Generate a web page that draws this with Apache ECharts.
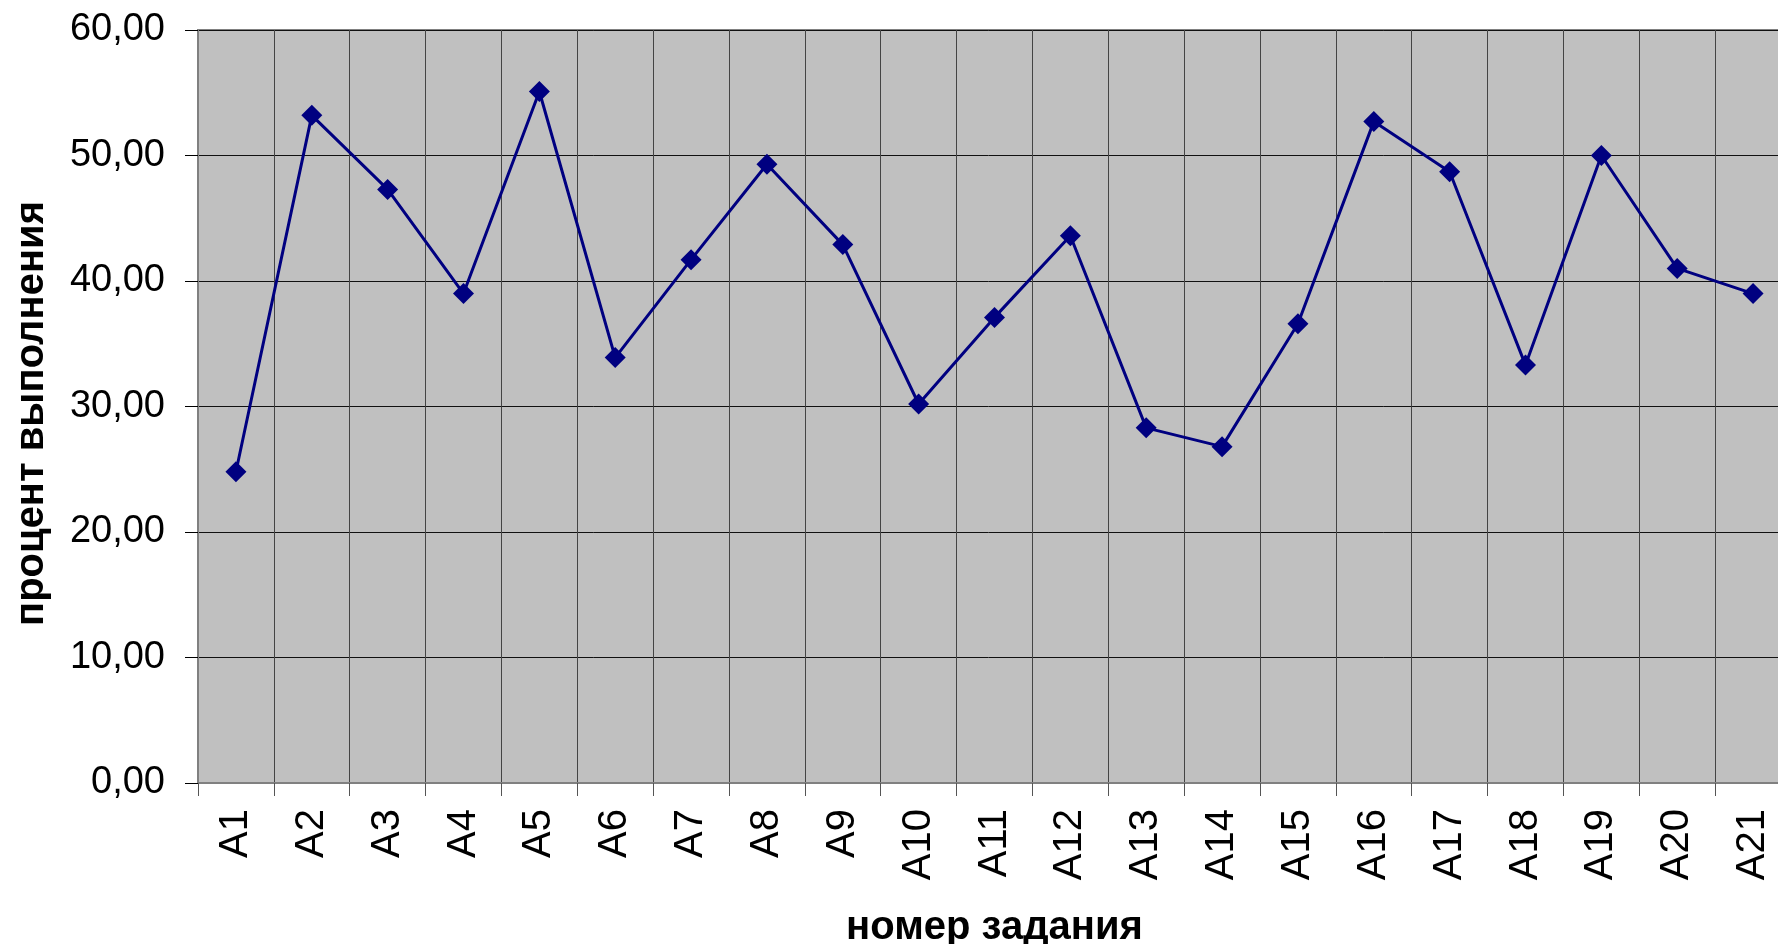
<!DOCTYPE html>
<html>
<head>
<meta charset="utf-8">
<script src="https://cdn.jsdelivr.net/npm/echarts@6/dist/echarts.min.js"></script>
<style>
  html, body { margin: 0; padding: 0; background: #fff; overflow: hidden; }
  #chart { width: 1778px; height: 944px; }
</style>
</head>
<body>
<div id="chart"></div>
<script>
// номера заданий
const tasks = ["A1", "A2", "A3", "A4", "A5", "A6", "A7", "A8", "A9", "A10", "A11",
  "A12", "A13", "A14", "A15", "A16", "A17", "A18", "A19", "A20", "A21"];
// процент выполнения
const percent = [24.8, 53.2, 47.3, 39.0, 55.1, 33.9, 41.7, 49.3, 42.9, 30.2, 37.1,
  43.6, 28.3, 26.8, 36.6, 52.7, 48.7, 33.3, 50.0, 41.0, 39.0];
const yMin = 0;
const yMax = 60;
const yStep = 10;

const font = "'Liberation Sans', Arial, sans-serif";
const chart = echarts.init(document.getElementById("chart"));

const option = {
  backgroundColor: "#ffffff",
  animation: false,
  grid: {
    left: 198,
    width: 1593, // область построения уходит за правый край картинки
    top: 30,
    bottom: 161,
    show: true,
    backgroundColor: "#c0c0c0",
    borderColor: "#808080",
    borderWidth: 2,
    containLabel: false,
    outerBoundsMode: "none",
  },
  xAxis: {
    type: "category",
    data: tasks,
    boundaryGap: true,
    name: "номер задания",
    nameLocation: "middle",
    nameGap: 125,
    nameTextStyle: { fontFamily: font, fontWeight: "bold", fontSize: 40, color: "#000" },
    axisLine: { show: true, lineStyle: { color: "#808080", width: 2 } },
    axisTick: { show: true, length: 13, lineStyle: { color: "#555", width: 1 } },
    axisLabel: {
      rotate: 90,
      margin: 26,
      fontFamily: font,
      fontSize: 40,
      color: "#000",
      interval: 0,
    },
    splitLine: { show: true, lineStyle: { color: "#444", width: 1 } },
  },
  yAxis: {
    type: "value",
    min: yMin,
    max: yMax,
    interval: yStep,
    name: "процент выполнения",
    nameLocation: "middle",
    nameRotate: 90,
    nameGap: 146,
    nameTextStyle: {
      fontFamily: font,
      fontWeight: "bold",
      fontSize: 40,
      color: "#000",
      padding: [0, 14, 0, 0],
    },
    axisLine: { show: true, lineStyle: { color: "#808080", width: 2 } },
    axisTick: { show: true, length: 13, lineStyle: { color: "#000", width: 1 } },
    axisLabel: {
      margin: 33,
      fontFamily: font,
      fontSize: 38,
      color: "#000",
      formatter: function (value) {
        return value.toFixed(2).replace(".", ","); // запятая как десятичный разделитель
      },
    },
    splitLine: { show: true, lineStyle: { color: "#111", width: 1 } },
  },
  series: [
    {
      name: "процент выполнения",
      type: "line",
      data: percent,
      symbol: "diamond",
      symbolSize: 21,
      itemStyle: { color: "#000080" },
      lineStyle: { color: "#000080", width: 3 },
      z: 5,
    },
  ],
};

chart.setOption(option);
</script>
</body>
</html>
